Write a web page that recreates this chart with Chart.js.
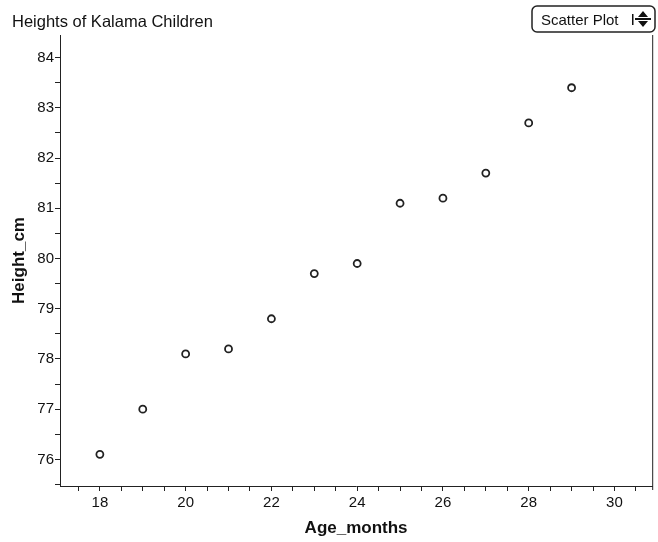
<!DOCTYPE html>
<html>
<head>
<meta charset="utf-8">
<script src="https://cdn.jsdelivr.net/npm/chart.js@4/dist/chart.umd.min.js"></script>
<style>
  body { margin: 0; background: #fff; }
  canvas { display: block; }
</style>
</head>
<body>
<canvas id="scatter" width="658" height="542"></canvas>
<script>
const ages = [18, 19, 20, 21, 22, 23, 24, 25, 26, 27, 28, 29];
const heights = [76.1, 77.0, 78.1, 78.2, 78.8, 79.7, 79.9, 81.1, 81.2, 81.7, 82.7, 83.4];
const xTickLabels = [18, 20, 22, 24, 26, 28, 30];
const yTickLabels = [76, 77, 78, 79, 80, 81, 82, 83, 84];

const font = "'Liberation Sans', Arial, sans-serif";

// title text and the "Scatter Plot" button, plus the right frame line
const decor = {
    id: 'decor',
    afterDraw: (chart) => {
        const ctx = chart.ctx;
        const area = chart.chartArea;
        ctx.save();

        ctx.strokeStyle = '#222';
        ctx.lineWidth = 1;
        ctx.beginPath();
        ctx.moveTo(area.right + 0.5, area.top);
        ctx.lineTo(area.right + 0.5, area.bottom + 4);
        ctx.stroke();

        ctx.fillStyle = '#111';
        ctx.font = `16.5px ${font}`;
        ctx.textBaseline = 'alphabetic';
        ctx.fillText('Heights of Kalama Children', 12, 27);

        // button
        const bx = 532, by = 6, bw = 123, bh = 26, r = 5;
        ctx.lineWidth = 1.5;
        ctx.beginPath();
        ctx.roundRect(bx, by, bw, bh, r);
        ctx.stroke();
        ctx.font = `15px ${font}`;
        ctx.fillText('Scatter Plot', bx + 9, by + 19);
        ctx.fillRect(bx + 100, by + 8, 1.5, 11);
        ctx.beginPath();
        ctx.moveTo(bx + 111, by + 5);
        ctx.lineTo(bx + 116, by + 11);
        ctx.lineTo(bx + 106, by + 11);
        ctx.closePath();
        ctx.moveTo(bx + 111, by + 21);
        ctx.lineTo(bx + 116, by + 15);
        ctx.lineTo(bx + 106, by + 15);
        ctx.closePath();
        ctx.fill();
        ctx.fillRect(bx + 103, by + 12, 16, 2);

        ctx.restore();
    }
};

new Chart(
    document.getElementById('scatter'),
    {
        type: 'scatter',
        plugins: [decor],
        data: {
            datasets: [
                {
                    label: 'Height_cm',
                    data: ages.map((a, i) => ({ x: a, y: heights[i] })),
                    pointRadius: 3.5,
                    pointBorderWidth: 1.8,
                    pointBackgroundColor: '#fff',
                    pointBorderColor: '#222'
                }
            ]
        },
        options: {
            responsive: false,
            animation: false,
            layout: {
                padding: { left: 0, right: 3, top: 35, bottom: 0 }
            },
            plugins: {
                legend: { display: false },
                tooltip: { enabled: false }
            },
            scales: {
                x: {
                    type: 'linear',
                    min: 17.07,
                    max: 30.88,
                    afterFit: (scale) => { scale.height = 56; },
                    ticks: {
                        stepSize: 0.5,
                        includeBounds: false,
                        autoSkip: false,
                        maxRotation: 0,
                        color: '#111',
                        font: { family: font, size: 15 },
                        padding: 3,
                        callback: (v) => xTickLabels.includes(v) ? String(v) : ''
                    },
                    grid: {
                        drawOnChartArea: false,
                        tickLength: 5,
                        tickColor: '#222'
                    },
                    border: { color: '#222', width: 1 },
                    title: {
                        display: true,
                        text: 'Age_months',
                        color: '#111',
                        font: { family: font, size: 17, weight: 'bold' },
                        padding: { top: 0, bottom: 3 }
                    }
                },
                y: {
                    type: 'linear',
                    min: 75.47,
                    max: 84.45,
                    afterFit: (scale) => { scale.width = 60; },
                    ticks: {
                        stepSize: 0.5,
                        includeBounds: false,
                        autoSkip: false,
                        color: '#111',
                        font: { family: font, size: 15 },
                        padding: 1,
                        callback: (v) => yTickLabels.includes(v) ? String(v) : ''
                    },
                    grid: {
                        drawOnChartArea: false,
                        tickLength: 5,
                        tickColor: '#222'
                    },
                    border: { color: '#222', width: 1 },
                    title: {
                        display: true,
                        text: 'Height_cm',
                        color: '#111',
                        font: { family: font, size: 17, weight: 'bold' },
                        padding: { top: 9, bottom: 0 }
                    }
                }
            }
        }
    }
);
</script>
</body>
</html>
